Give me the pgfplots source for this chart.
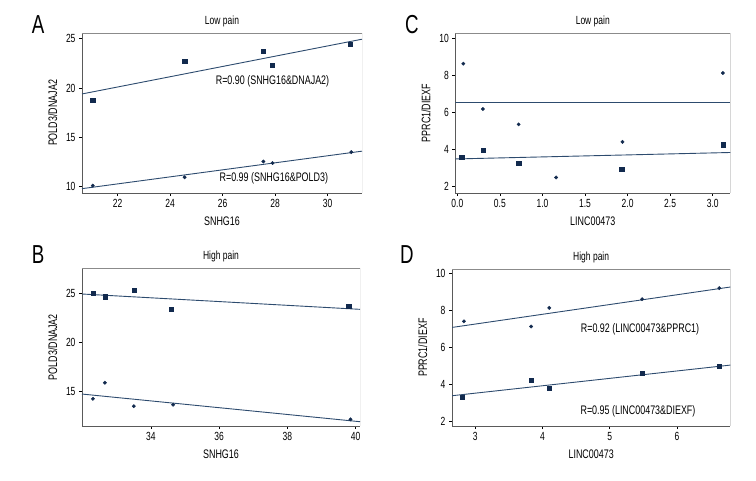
\documentclass[border=0pt]{standalone}
\usepackage{pgfplots}
\pgfplotsset{compat=1.18}
\usepackage{fontspec}
\setmainfont{Liberation Sans}[FakeStretch=0.72]
\definecolor{mk}{RGB}{18,42,78}
\definecolor{ln}{RGB}{45,75,110}
\definecolor{fr}{RGB}{90,90,90}
\pgfplotsset{
  panel/.style={
    scale only axis,
    axis x line*=bottom, axis y line*=left,
    axis line style={fr, line width=0.8pt},
    tick style={black, line width=0.6pt},
    tick align=outside,
    major tick length=3pt,
    /pgf/number format/assume math mode=true,
    tick label style={font=\fontsize{11.8}{13}\selectfont},
    label style={font=\fontsize{12.4}{13}\selectfont},
    title style={font=\fontsize{11.8}{13}\selectfont},
    clip=true,
  },
  sq/.style={only marks, mark=square*, mark size=2.1pt, mark options={draw=mk, fill=mk}},
  dt/.style={only marks, mark=*, mark size=1.7pt, mark options={draw=mk, fill=mk}},
  fit/.style={no marks, ln, line width=0.9pt},
}
\newcommand{\frameit}{\draw[fr!70, line width=0.8pt] (rel axis cs:0,1) -- (rel axis cs:1,1) -- (rel axis cs:1,0);}
\begin{document}
\begin{tikzpicture}
\path (0pt,0pt) rectangle (756pt,480pt);
% Panel A
\begin{axis}[panel, at={(82pt,287pt)}, anchor=south west, width=280pt, height=160pt,
  xmin=20.64, xmax=31.31, ymin=9.36, ymax=25.58,
  xtick={22,24,26,28,30}, ytick={10,15,20,25},
  xlabel={SNHG16}, ylabel={POLD3/DNAJA2},
  title={Low pain}, title style={yshift=-3pt},
  xlabel style={yshift=-2pt}, ylabel style={yshift=2pt}]
\frameit
\addplot[sq] coordinates {(21.05,18.8) (24.55,22.7) (27.55,23.75) (27.9,22.3) (30.85,24.45)};
\addplot[dt] coordinates {(21.05,10.1) (24.55,10.95) (27.55,12.55) (27.9,12.4) (30.9,13.5)};
\addplot[fit] coordinates {(20.64,19.4) (31.31,24.95)};
\addplot[fit] coordinates {(20.64,9.8) (31.31,13.6)};
\node[font=\fontsize{12.4}{13}\selectfont] at (axis cs:27.9,20.72) {R=0.90 (SNHG16\&DNAJA2)};
\node[font=\fontsize{12.4}{13}\selectfont] at (axis cs:27.95,10.9) {R=0.99 (SNHG16\&POLD3)};
\end{axis}
% Panel C
\begin{axis}[panel, at={(455.3pt,287pt)}, anchor=south west, width=275pt, height=160pt,
  xmin=-0.024, xmax=3.207, ymin=1.66, ymax=10.31,
  xtick={0,0.5,1,1.5,2,2.5,3}, ytick={2,4,6,8,10},
  xticklabel style={/pgf/number format/.cd, fixed, fixed zerofill, precision=1},
  xlabel={LINC00473}, ylabel={PPRC1/DIEXF},
  title={Low pain}, title style={yshift=-3pt},
  xlabel style={yshift=-2pt}, ylabel style={yshift=2pt}]
\frameit
\addplot[dt] coordinates {(0.07,8.65) (0.3,6.2) (0.72,5.37) (1.16,2.5) (1.94,4.42) (3.12,8.15)};
\addplot[sq] coordinates {(0.05,3.6) (0.3,3.98) (0.72,3.28) (1.93,2.93) (3.12,4.27)};
\addplot[fit] coordinates {(-0.024,6.56) (3.207,6.56)};
\addplot[fit] coordinates {(-0.024,3.5) (3.207,3.85)};
\end{axis}
% Panel B
\begin{axis}[panel, at={(82pt,54pt)}, anchor=south west, width=278pt, height=157.7pt,
  xmin=31.98, xmax=40.13, ymin=11.42, ymax=27.56,
  xtick={34,36,38,40}, ytick={15,20,25},
  xlabel={SNHG16}, ylabel={POLD3/DNAJA2},
  title={High pain}, title style={yshift=-3pt},
  xlabel style={yshift=-2pt}, ylabel style={yshift=2pt}]
\frameit
\addplot[sq] coordinates {(32.3,25.05) (32.65,24.65) (33.5,25.35) (34.6,23.4) (39.8,23.7)};
\addplot[dt] coordinates {(32.3,14.2) (32.65,15.85) (33.5,13.45) (34.65,13.6) (39.85,12.1)};
\addplot[fit] coordinates {(31.98,24.93) (40.13,23.36)};
\addplot[fit] coordinates {(31.98,14.69) (40.13,11.86)};
\end{axis}
% Panel D
\begin{axis}[panel, at={(452pt,54pt)}, anchor=south west, width=278.3pt, height=156.7pt,
  xmin=2.653, xmax=6.793, ymin=1.73, ymax=10.22,
  xtick={3,4,5,6}, ytick={2,4,6,8,10},
  xlabel={LINC00473}, ylabel={PPRC1/DIEXF},
  title={High pain}, title style={yshift=-3pt},
  xlabel style={yshift=-2pt}, ylabel style={yshift=2pt}]
\frameit
\addplot[dt] coordinates {(2.83,7.4) (3.83,7.12) (4.1,8.13) (5.48,8.6) (6.63,9.2)};
\addplot[sq] coordinates {(2.81,3.28) (3.83,4.2) (4.1,3.78) (5.48,4.57) (6.63,4.95)};
\addplot[fit] coordinates {(2.653,7.07) (6.793,9.26)};
\addplot[fit] coordinates {(2.653,3.37) (6.793,5.03)};
\node[font=\fontsize{12.4}{13}\selectfont] at (axis cs:5.45,6.97) {R=0.92 (LINC00473\&PPRC1)};
\node[font=\fontsize{12.4}{13}\selectfont] at (axis cs:5.42,2.5) {R=0.95 (LINC00473\&DIEXF)};
\end{axis}
% panel letters
\node[font=\fontsize{26}{28}\selectfont] at (38pt,455pt) {A};
\node[font=\fontsize{26}{28}\selectfont] at (412pt,455pt) {C};
\node[font=\fontsize{26}{28}\selectfont] at (38pt,225pt) {B};
\node[font=\fontsize{26}{28}\selectfont] at (407pt,225pt) {D};
\end{tikzpicture}
\end{document}
